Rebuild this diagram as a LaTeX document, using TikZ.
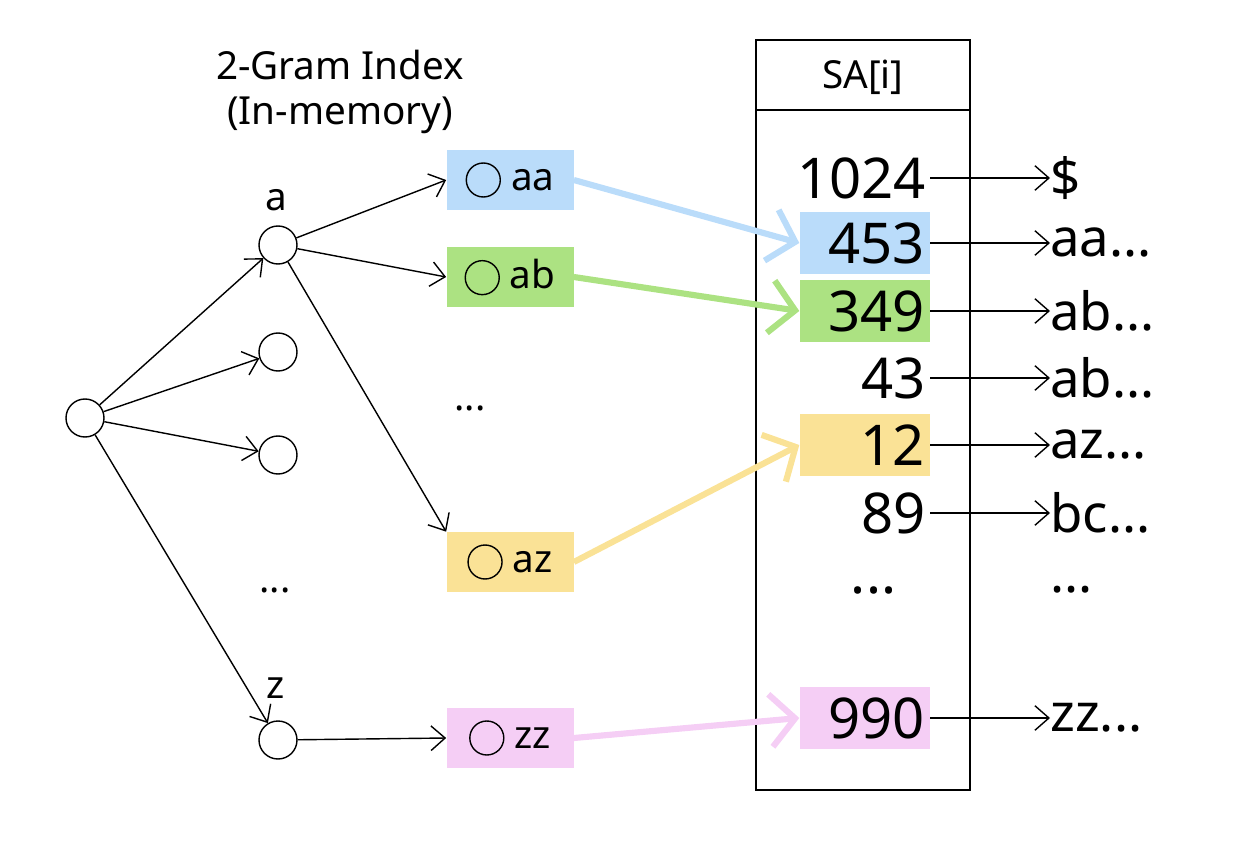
\documentclass[tikz,border=0pt]{standalone}
\usepackage{fontspec}
\setmainfont{Noto Sans}
\usetikzlibrary{arrows.meta}
\definecolor{BoxBlue}{RGB}{186,220,250}
\definecolor{BoxGreen}{RGB}{172,226,130}
\definecolor{BoxYellow}{RGB}{250,226,150}
\definecolor{BoxPink}{RGB}{245,206,245}

\newcommand{\ring}{\tikz[baseline=-0.5ex, x=1cm, y=1cm]\draw[thick] (0,0) circle (0.34cm);}

\tikzset{
  dot/.style={draw, circle, thick, minimum size=38*0.02cm, inner sep=0pt},
  gram/.style={minimum width=127*0.02cm, minimum height=60*0.02cm, inner sep=0pt, font=\fontsize{22}{24}\selectfont},
  num/.style={anchor=east, font=\fontsize{32}{34}\selectfont, inner sep=2pt},
  hit/.style={num, minimum width=130*0.02cm, minimum height=62*0.02cm, align=right, text width=120*0.02cm},
  suf/.style={anchor=west, font=\fontsize{30}{32}\selectfont, inner sep=0pt},
  tree/.style={thick, -{Straight Barb[length=8pt,width=14pt]}},
  link/.style={line width=3.5pt, -{Straight Barb[length=14pt,width=30pt]}}
}

\begin{document}
\begin{tikzpicture}[x=0.02cm, y=-0.02cm]
    \useasboundingbox (0,0) rectangle (1242,862);

    % Title
    \node[font=\fontsize{22}{26}\selectfont, align=center] (title) at (340,92) {2-Gram Index\\(In-memory)};

    % Tree
    \node[dot] (root) at (85,418) {};
    \node[dot] (na) at (278,245) {};
    \node[dot] (nb) at (278,352) {};
    \node[dot] (nc) at (278,455) {};
    \node[dot] (nz) at (278,740) {};
    \node[font=\fontsize{22}{24}\selectfont] (la) at (276,200) {a};
    \node[font=\fontsize{22}{24}\selectfont] (lz) at (276,688) {z};
    \node[font=\fontsize{22}{24}\selectfont] (tdots) at (275,590) {...};

    % 2-gram boxes
    \node[gram, fill=BoxBlue] (aa) at (510,180) {\ring\ aa};
    \node[gram, fill=BoxGreen] (ab) at (510,277) {\ring\ ab};
    \node[font=\fontsize{22}{24}\selectfont] (gdots) at (470,408) {...};
    \node[gram, fill=BoxYellow] (az) at (510,562) {\ring\ az};
    \node[gram, fill=BoxPink] (zz) at (510,738) {\ring\ zz};

    % Tree edges
    \draw[tree] (root) -- (na);
    \draw[tree] (root) -- (nb);
    \draw[tree] (root) -- (nc);
    \draw[tree] (root) -- (nz);
    \draw[tree] (na) -- (aa.west);
    \draw[tree] (na) -- (ab.west);
    \draw[tree] (na) -- (az.north west);
    \draw[tree] (nz) -- (zz.west);

    % Suffix array
    \draw[thick] (756,40) rectangle (970,790);
    \draw[thick] (756,110) -- (970,110);
    \node[font=\fontsize{22}{24}\selectfont] (sa) at (863,77) {SA[i]};

    \node[num] (s1) at (930,178) {1024};
    \node[hit, fill=BoxBlue] (s2) at (930,243) {453};
    \node[hit, fill=BoxGreen] (s3) at (930,311) {349};
    \node[num] (s4) at (930,378) {43};
    \node[hit, fill=BoxYellow] (s5) at (930,445) {12};
    \node[num] (s6) at (930,513) {89};
    \node[num] (s7) at (900,590) {...};
    \node[hit, fill=BoxPink] (s8) at (930,718) {990};

    \node[suf] (t1) at (1050,178) {\$};
    \node[suf] (t2) at (1050,243) {aa...};
    \node[suf] (t3) at (1050,311) {ab...};
    \node[suf] (t4) at (1050,378) {ab...};
    \node[suf] (t5) at (1050,445) {az...};
    \node[suf] (t6) at (1050,513) {bc...};
    \node[suf] (t7) at (1050,590) {...};
    \node[suf] (t8) at (1050,718) {zz...};

    \foreach \i in {1,2,3,4,5,6,8}
        \draw[tree] (s\i.east) -- (t\i.west);

    % Links into SA
    \draw[link, BoxBlue] (aa.east) -- (s2.west);
    \draw[link, BoxGreen] (ab.east) -- (s3.west);
    \draw[link, BoxYellow] (az.east) -- (s5.west);
    \draw[link, BoxPink] (zz.east) -- (s8.west);
\end{tikzpicture}
\end{document}
